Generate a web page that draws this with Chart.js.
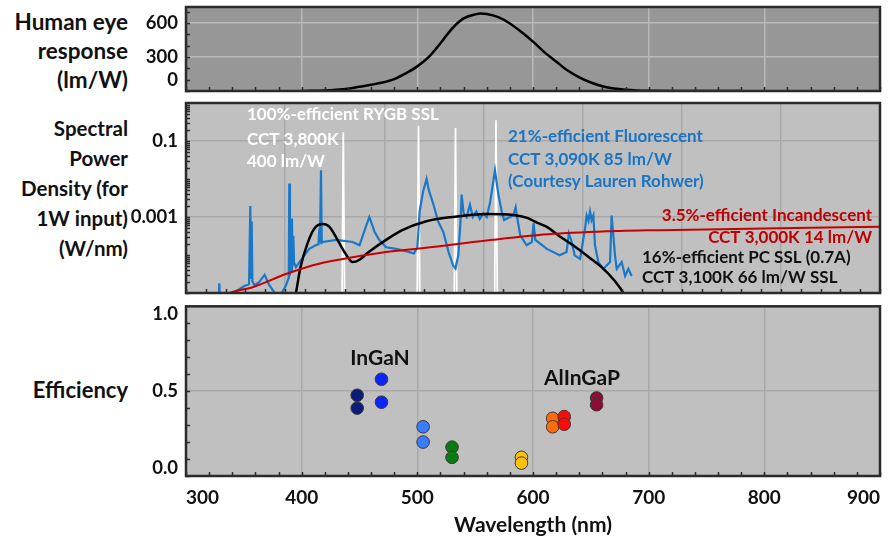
<!DOCTYPE html>
<html>
<head>
<meta charset="utf-8">
<script src="https://cdn.jsdelivr.net/npm/chart.js@4"></script>
<style>
body{margin:0;background:#fff;width:893px;height:543px;position:relative;overflow:hidden;font-family:Lato,sans-serif}
canvas{position:absolute;left:0}
.lab{position:absolute;right:765px;text-align:right;font-weight:bold;font-size:20.5px;line-height:30px;color:#111;white-space:nowrap}
</style>
</head>
<body>
<div class="lab" style="top:7px;line-height:29px;font-size:22.5px">Human eye<br>response<br>(lm/W)</div>
<div class="lab" style="top:113px">Spectral<br>Power<br>Density (for<br>1W input)<br>(W/nm)</div>
<div class="lab" style="top:375px;font-size:22px">Efficiency</div>
<canvas id="eye" width="893" height="100" style="top:0"></canvas>
<canvas id="spd" width="893" height="202" style="top:96px"></canvas>
<canvas id="eff" width="893" height="244" style="top:299px"></canvas>
<script>
// human eye response (lm/W)
const eyeWl  = [400,410,420,430,440,450,460,470,480,490,500,510,520,530,540,550,555,560,570,580,590,600,610,620,630,640,650,660,670,680,690,700,720,750,780];
const eyeLmW = [0.5,1.5,4,10,20,38,55,75,105,155,217,300,420,550,640,675,682,678,650,595,520,435,340,260,180,120,75,42,22,11,5,2.5,0.6,0.1,0];

// 3.5% incandescent, W/nm for 1 W input
const incWl  = [330,338,357,387,415,444,473,504,560,618,675,710,800,900];
const incSpd = [7e-6,1e-5,1.4e-5,3.2e-5,5.9e-5,8.7e-5,1.2e-4,1.5e-4,2.4e-4,3.6e-4,4.3e-4,4.5e-4,5.0e-4,5.5e-4];

// 16% PC SSL
const pcWl  = [392,395,399,405,411,418,424,431,438,444,450,458,473,487,507,530,560,583,595,603,612,623,637,650,660,670,678,684];
const pcSpd = [4e-6,1e-5,4.8e-5,2e-4,5e-4,6.5e-4,5.5e-4,2.5e-4,1.07e-4,6.5e-5,7.5e-5,1.2e-4,2.5e-4,4.5e-4,7.6e-4,1.0e-3,1.2e-3,1.13e-3,9.5e-4,7.2e-4,5.5e-4,3.1e-4,1.6e-4,8e-5,4.6e-5,2.2e-5,1e-5,4e-6];

// 21% fluorescent
const fluoWl = [
  327.5,328.8,330,340,343,350,354.5,355.6,356.2,356.8,
  357.4,359,363,368,372,378,381,386.5,388.8,389.3,
  389.9,391,391.6,392.2,392.8,393.4,395,401,406.6,412,
  414.5,415.3,415.8,416.7,417.4,418.2,430,444,450,455,
  458.5,463,467,473,481.6,490,497,500,502,505,
  508,510,514,518,522.5,527,531,533,535.4,537.5,
  538.3,540,542.6,545.5,548,551,554,557,560,563,
  567.1,570,573,575,580,583,585,586,589,594.5,
  599,600.5,602,612,623,629,631,633.5,636,640.7,
  645,646.4,648,649.3,650.7,652.2,653.6,656.5,660.8,666.6,
  668,670.9,672.4,676.7,679.6,682.4,685.3];
const fluoSpd = [
  1e-6,1.8e-5,1e-6,7.9e-6,1.1e-5,1.5e-5,1.7e-5,1.95e-3,2.5e-5,7.6e-4,
  2.0e-5,1.6e-5,1.9e-5,3.0e-5,1.6e-5,8.9e-6,7.9e-6,1.6e-5,2.5e-5,7.6e-3,
  3.2e-5,4.0e-5,9.1e-4,5.0e-5,3.2e-4,6.3e-5,4.8e-5,8.7e-5,1.45e-4,1.8e-4,
  1.9e-4,5.0e-4,2.0e-4,1.7e-2,2.1e-4,2.2e-4,2.5e-4,2.2e-4,1.8e-4,5.0e-4,
  1.0e-3,4.1e-4,2.5e-4,1.6e-4,1.45e-4,1.26e-4,1.1e-4,1.6e-4,1.4e-3,4.7e-3,
  1.0e-2,5.0e-3,2.1e-3,7.6e-4,4.0e-4,1.2e-4,5.2e-5,4.4e-5,9.8e-5,9.1e-4,
  3.9e-3,1.26e-3,1.0e-3,2.1e-3,1.0e-3,1.4e-3,8.9e-4,1.26e-3,1.0e-3,2.5e-3,
  1.7e-2,4.0e-3,1.4e-3,8.3e-4,1.0e-3,1.1e-3,1.8e-3,1.1e-3,3.3e-4,1.8e-4,
  2.2e-4,6.9e-4,2.5e-4,1.45e-4,9.8e-5,1.2e-4,3.7e-4,2.2e-4,9.8e-5,7.9e-5,
  5.0e-4,1.1e-3,7.9e-4,1.4e-3,8.3e-4,1.1e-3,1.8e-4,6.5e-5,4.3e-5,6.5e-5,
  1.1e-3,9.8e-5,4.3e-5,6.5e-5,2.8e-5,4.3e-5,2.8e-5];

// 100% RYGB SSL lines
const rygbWl   = [436,501,533,568];
const rygbPeak = [0.17,0.25,0.22,0.35];

// LED efficiencies
const ledWl  = [448,448,469,469,505,505,530,530,590,590,617,617,627,627,655,655];
const ledEff = [0.476,0.40,0.57,0.435,0.29,0.20,0.17,0.11,0.11,0.076,0.34,0.29,0.35,0.305,0.46,0.42];
const ledCol = ['#0c1a78','#0c1a78','#0a24ff','#0a24ff','#3b7cff','#3b7cff','#0a7a12','#0a7a12',
                '#ffc20a','#ffc20a','#ff6c0a','#ff6c0a','#ff0a0a','#ff0a0a','#8e0c34','#8e0c34'];

const FONT = 'Lato, sans-serif';
const pts = (xs, ys) => xs.map((x, i) => ({x: x, y: ys[i]}));
const range = (a, b, s) => { const r = []; for (let v = a; v <= b + 1e-9; v += s) r.push(v); return r; };

// frame, inner tick marks and free text
const frame = {
  id: 'frame',
  beforeDraw(chart, args, o) {
    const {ctx, chartArea: a} = chart;
    ctx.save();
    ctx.fillStyle = o.bg;
    ctx.fillRect(a.left, a.top, a.right - a.left, a.bottom - a.top);
    ctx.restore();
  },
  afterDraw(chart, args, o) {
    const {ctx, chartArea: a, scales} = chart;
    ctx.save();
    ctx.strokeStyle = '#2b2b2b';
    ctx.lineWidth = 1.5;
    ctx.beginPath();
    (o.xTicks || []).forEach(v => {
      const px = Math.round(scales.x.getPixelForValue(v)) + 0.5;
      ctx.moveTo(px, a.bottom); ctx.lineTo(px, a.bottom - 4);
    });
    (o.yTicks || []).forEach(v => {
      const py = Math.round(scales.y.getPixelForValue(v)) + 0.5;
      ctx.moveTo(a.left, py); ctx.lineTo(a.left + 4, py);
    });
    ctx.stroke();
    ctx.lineWidth = 2.5;
    ctx.strokeRect(a.left, a.top, a.right - a.left, a.bottom - a.top);
    (o.notes || []).forEach(n => {
      ctx.font = 'bold ' + (n.size || 17) + 'px ' + FONT;
      ctx.fillStyle = n.color;
      ctx.textAlign = n.align || 'left';
      ctx.textBaseline = 'middle';
      ctx.fillText(n.text, n.x, n.y);
    });
    ctx.restore();
  }
};

// fixed axis sizes so the three plot boxes line up
const yFit = s => { s.width = 186; s.paddingTop = 0; s.paddingBottom = 0; };
const xFit = h => s => { s.height = h; s.paddingLeft = 0; s.paddingRight = 0; };
const tickFont = {family: FONT, size: 18.5, weight: 'bold'};
const gridTop = {color: '#b9b9b9', lineWidth: 1.5, drawTicks: false};
const gridLow = {color: '#a8a8a8', lineWidth: 1.5, drawTicks: false};

// top panel
new Chart(document.getElementById('eye'), {
  type: 'line',
  data: {datasets: [{data: pts(eyeWl, eyeLmW), borderColor: '#000', borderWidth: 2.5, pointRadius: 0, cubicInterpolationMode: 'monotone'}]},
  options: {
    responsive: false, animation: false, devicePixelRatio: 1,
    layout: {padding: {top: 7, bottom: 9, right: 13, left: 0}},
    plugins: {legend: {display: false}, tooltip: {enabled: false},
      frame: {bg: '#979797', xTicks: range(300, 900, 20), yTicks: range(0, 700, 100)}},
    scales: {
      x: {type: 'linear', min: 300, max: 900, afterFit: xFit(0),
          ticks: {display: false, stepSize: 100}, border: {display: false}, grid: gridTop},
      y: {min: 0, max: 740, afterFit: yFit,
          afterBuildTicks: s => { s.ticks = [0, 300, 600].map(v => ({value: v})); },
          // the 0 label sits just above the bottom edge
          ticks: {font: tickFont, color: '#111', padding: 8, autoSkip: false,
                  callback: v => (v === 0 ? ['0', ''] : String(v))},
          border: {display: false}, grid: gridTop}
    }
  },
  plugins: [frame]
});

// middle panel
const spdLine = (xs, ys, col, w, smooth) => ({
  data: pts(xs, ys), borderColor: col, borderWidth: w, pointRadius: 0, clip: 0,
  cubicInterpolationMode: smooth ? 'monotone' : 'default', tension: 0
});
const rygbPts = [];
rygbWl.forEach((w, i) => {
  rygbPts.push({x: w - 1.6, y: 1e-7}, {x: w, y: rygbPeak[i]}, {x: w + 1.6, y: 1e-7});
});
const minorLog = [];
[-5, -4, -3, -2, -1].forEach(e => { for (let k = 1; k < 10; k++) minorLog.push(k * Math.pow(10, e)); });

new Chart(document.getElementById('spd'), {
  type: 'line',
  data: {datasets: [
    spdLine(incWl, incSpd, '#c80000', 2, true),
    spdLine(pcWl, pcSpd, '#000', 2.5, true),
    spdLine(fluoWl, fluoSpd, '#1a78c8', 2.2, false),
    {data: rygbPts, borderColor: '#fff', borderWidth: 1.7, pointRadius: 0, clip: 0, tension: 0}
  ]},
  options: {
    responsive: false, animation: false, devicePixelRatio: 1,
    layout: {padding: {top: 7, bottom: 5, right: 13, left: 0}},
    plugins: {legend: {display: false}, tooltip: {enabled: false},
      frame: {bg: '#c0c0c0', xTicks: range(300, 900, 600 / 35), yTicks: minorLog,
        notes: [
          {text: '100%-efficient RYGB SSL', x: 247, y: 19, color: '#fff'},
          {text: 'CCT 3,800K', x: 247, y: 44, color: '#fff'},
          {text: '400 lm/W', x: 247, y: 66, color: '#fff'},
          {text: '21%-efficient Fluorescent', x: 508, y: 41, color: '#1a74c4'},
          {text: 'CCT 3,090K 85 lm/W', x: 508, y: 64, color: '#1a74c4'},
          {text: '(Courtesy Lauren Rohwer)', x: 508, y: 86, color: '#1a74c4'},
          {text: '3.5%-efficient Incandescent', x: 872, y: 120, color: '#c00000', align: 'right'},
          {text: 'CCT 3,000K 14 lm/W', x: 872, y: 142, color: '#c00000', align: 'right'},
          {text: '16%-efficient PC SSL (0.7A)', x: 642, y: 162, color: '#111'},
          {text: 'CCT 3,100K 66 lm/W SSL', x: 642, y: 182, color: '#111'}
        ]}},
    scales: {
      x: {type: 'linear', min: 300, max: 900, afterFit: xFit(0),
          afterBuildTicks: s => { s.ticks = range(0, 7, 1).map(k => ({value: 300 + k * 600 / 7})); },
          ticks: {display: false}, border: {display: false}, grid: gridLow},
      y: {type: 'logarithmic', min: 1e-5, max: 1, afterFit: yFit,
          afterBuildTicks: s => { s.ticks = [1e-5, 1e-3, 1e-1, 1].map(v => ({value: v})); },
          ticks: {font: tickFont, color: '#111', padding: 8, autoSkip: false,
                  callback: v => (v === 0.1 ? '0.1' : v === 0.001 ? '0.001' : '')},
          border: {display: false}, grid: gridLow}
    }
  },
  plugins: [frame]
});

// bottom panel
new Chart(document.getElementById('eff'), {
  type: 'scatter',
  data: {datasets: [{data: pts(ledWl, ledEff), pointRadius: 6.3, pointBackgroundColor: ledCol,
                     pointBorderColor: '#3a3a3a', pointBorderWidth: 1}]},
  options: {
    responsive: false, animation: false, devicePixelRatio: 1,
    layout: {padding: {top: 7, bottom: 0, right: 13, left: 0}},
    plugins: {legend: {display: false}, tooltip: {enabled: false},
      frame: {bg: '#c0c0c0', xTicks: range(300, 900, 20), yTicks: range(0, 1, 0.1),
        notes: [
          {text: 'InGaN', x: 380, y: 59, color: '#111', size: 21, align: 'center'},
          {text: 'AlInGaP', x: 582, y: 79, color: '#111', size: 21, align: 'center'}
        ]}},
    scales: {
      x: {type: 'linear', min: 300, max: 900, afterFit: xFit(67),
          ticks: {stepSize: 100, align: 'inner', font: {family: FONT, size: 19, weight: 'bold'}, color: '#111', padding: 10},
          title: {display: true, text: 'Wavelength (nm)', color: '#111',
                  font: {family: FONT, size: 21, weight: 'bold'}, padding: {top: 0, bottom: 5}},
          border: {display: false}, grid: gridLow},
      y: {min: 0, max: 1, afterFit: yFit,
          afterBuildTicks: s => { s.ticks = [0, 0.5, 1].map(v => ({value: v})); },
          // end labels are pulled inside the box
          ticks: {font: {family: FONT, size: 18.5, weight: 'bold', lineHeight: 0.85}, color: '#111', padding: 8, autoSkip: false,
                  callback: v => (v === 1 ? ['', '1.0'] : v === 0 ? ['0.0', ''] : v.toFixed(1))},
          border: {display: false}, grid: gridLow}
    }
  },
  plugins: [frame]
});
</script>
</body>
</html>
